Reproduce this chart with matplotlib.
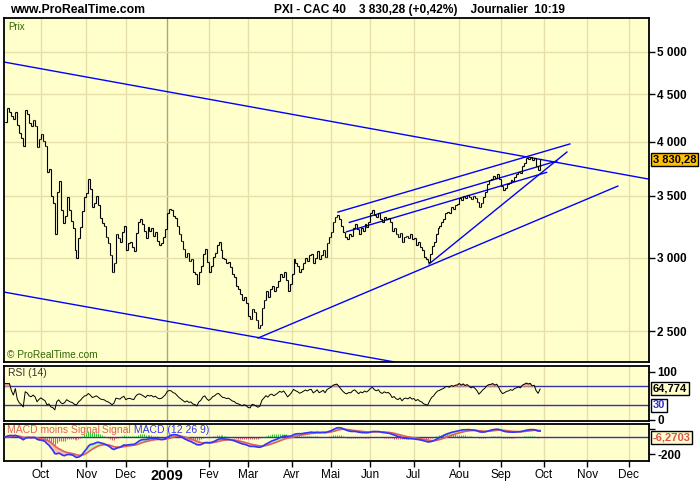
import numpy as np
import pandas as pd
import matplotlib
matplotlib.use('Agg')
import matplotlib.pyplot as plt

plt.rcParams['font.family'] = ['Liberation Sans Narrow', 'Liberation Sans', 'DejaVu Sans']

# CAC 40 daily closes, 5 Sep 2008 -> 29 Sep 2009 (trading-day index)
sep08 = [4205, 4350, 4305, 4265, 4230, 4310, 4170, 4090, 4040, 3960, 4325, 4290, 4195, 4165, 4220, 4160, 3950, 4030]
oct08 = [4080, 4010, 3960, 3710, 3740, 3500, 3440, 3180, 3530, 3630, 3380, 3270, 3330, 3490, 3380, 3290,
         3230, 3060, 3000, 3150, 3240, 3370, 3490]
nov08 = [3520, 3650, 3560, 3400, 3440, 3500, 3420, 3310, 3270, 3250, 3160, 3110, 3020, 2900, 2960, 3180,
         3150, 3120, 3200, 3250]
dec08 = [3060, 3110, 3120, 3080, 3050, 3190, 3280, 3300, 3260, 3210, 3150, 3240, 3210, 3230, 3170, 3200,
         3130, 3100, 3110, 3160, 3220]
jan09 = [3350, 3390, 3380, 3330, 3310, 3250, 3180, 3130, 3070, 3010, 3040, 2980, 2990, 2900, 2880, 2810,
         2900, 2940, 3030, 3070, 2970]
feb09 = [2900, 2940, 3010, 3040, 3100, 3120, 3060, 3000, 2990, 2960, 2970, 2930, 2880, 2860, 2800, 2780,
         2740, 2700, 2720, 2680]
mar09 = [2600, 2580, 2640, 2620, 2570, 2520, 2540, 2650, 2700, 2760, 2720, 2780, 2800, 2760, 2790, 2830,
         2880, 2860, 2900, 2840, 2760, 2810]
apr09 = [2880, 2990, 2960, 2940, 2900, 2920, 2960, 3000, 2980, 3020, 3030, 2960, 3000, 3050, 2990, 3020,
         3060, 3010, 3110, 3160]
may09 = [3200, 3280, 3320, 3340, 3300, 3250, 3200, 3160, 3140, 3180, 3170, 3230, 3260, 3220, 3180, 3230,
         3210, 3260, 3240, 3280]
jun09 = [3350, 3380, 3340, 3320, 3350, 3300, 3280, 3320, 3300, 3310, 3280, 3210, 3230, 3180, 3160, 3190,
         3120, 3160, 3170, 3150, 3180, 3140]
jul09 = [3150, 3100, 3120, 3080, 3060, 3010, 2990, 2970, 3030, 3090, 3120, 3180, 3230, 3250, 3280, 3300,
         3350, 3360, 3350, 3400, 3390, 3420, 3430]
aug09 = [3480, 3460, 3500, 3480, 3510, 3490, 3470, 3500, 3480, 3450, 3400, 3440, 3490, 3530, 3600, 3640,
         3650, 3680, 3660, 3690, 3650]
sep09 = [3590, 3550, 3570, 3600, 3610, 3640, 3630, 3670, 3690, 3710, 3700, 3770, 3800, 3840, 3830, 3850,
         3820, 3840, 3770, 3730, 3830.28]

closes = np.array(sep08 + oct08 + nov08 + dec08 + jan09 + feb09 + mar09 + apr09 + may09
                  + jun09 + jul09 + aug09 + sep09, dtype=float)
idx = np.arange(len(closes))

# first trading day of each month (index) and its label
month_starts = [18, 41, 61, 82, 103, 123, 145, 165, 185, 207, 230, 251, 273, 295, 316]
month_labels = ['Oct', 'Nov', 'Dec', '2009', 'Fev', 'Mar', 'Avr', 'Mai', 'Jun', 'Jul', 'Aou', 'Sep',
                'Oct', 'Nov', 'Dec']
price_ticks = [2500, 3000, 3500, 4000, 4500, 5000]

# hand-drawn trend lines, as (day index, price) end points
trend_lines = [
    [(-0.75, 4877), (330, 3635)],
    [(-0.75, 2756), (240, 2232)],
    [(128, 2459), (310.4, 3585)],
    [(214.7, 2955), (284.6, 3901)],
    [(168.5, 3361), (286.1, 3980)],
    [(174.3, 3276), (279.5, 3815)],
    [(172.9, 3201), (274.3, 3709)],
]

# indicators
s = pd.Series(closes)
delta = s.diff().fillna(0)
up = delta.clip(lower=0).ewm(alpha=1 / 14, adjust=True).mean()
down = (-delta.clip(upper=0)).ewm(alpha=1 / 14, adjust=True).mean()
rsi = (100 - 100 / (1 + up / down.replace(0, np.nan))).bfill().values
macd = (s.ewm(span=12, adjust=False).mean() - s.ewm(span=26, adjust=False).mean()).values
signal = pd.Series(macd).ewm(span=9, adjust=False).mean().values
hist = macd - signal

bg = '#FFFFCC'
grid_c = '#E6E0A8'
jan_c = '#A8A488'
xlim = (-0.75, 326.2)

fig = plt.figure(figsize=(7, 5), dpi=100)
ax = fig.add_axes([4 / 700, 1 - 362 / 500, 645 / 700, 344 / 500])
ax_rsi = fig.add_axes([4 / 700, 1 - 421 / 500, 645 / 700, 55 / 500])
ax_macd = fig.add_axes([4 / 700, 1 - 461 / 500, 645 / 700, 37 / 500])

for a in (ax, ax_rsi, ax_macd):
    a.set_facecolor(bg)
    a.set_xlim(*xlim)
    for m in month_starts:
        a.axvline(m, color=jan_c if m == 82 else grid_c, lw=1, zorder=0)
    for sp in a.spines.values():
        sp.set_linewidth(1.3)
    a.yaxis.tick_right()
    a.tick_params(axis='y', length=4, width=1, pad=2, labelsize=8.5)
    a.set_xticks([])

# price panel
ax.set_yscale('log')
ax.set_ylim(2317, 5440)
for p in price_ticks:
    ax.axhline(p, color=grid_c, lw=1, zorder=0)
ax.set_yticks(price_ticks)
ax.set_yticks([], minor=True)
ax.set_yticklabels([f'{p:,}'.replace(',', ' ') for p in price_ticks], fontweight='bold')

opens = np.r_[closes[0], closes[:-1]]
ax.vlines(idx, np.minimum(opens, closes), np.maximum(opens, closes), color='black', lw=0.8, zorder=3)
ax.hlines(opens, idx - 0.7, idx, color='black', lw=0.8, zorder=3)
ax.hlines(closes, idx, idx + 0.7, color='black', lw=0.8, zorder=3)

for (x0, y0), (x1, y1) in trend_lines:
    ax.plot([x0, x1], [y0, y1], color='#0000FF', lw=1, zorder=2)

ax.text(0.006, 0.988, 'Prix', transform=ax.transAxes, color='#336600', fontsize=7, va='top')
ax.text(0.004, 0.006, '\u00a9 ProRealTime.com', transform=ax.transAxes, color='#336600', fontsize=7.3, va='bottom')
ax.text(1.006, closes[-1], '3 830,28', transform=ax.get_yaxis_transform(), va='center', ha='left',
        fontsize=8, fontweight='bold', clip_on=False,
        bbox=dict(boxstyle='square,pad=0.15', fc='#FFC000', ec='black', lw=1))

# RSI panel
ax_rsi.set_ylim(-2.5, 111.4)
ax_rsi.axhline(70, color='#3333AA', lw=1, zorder=1)
ax_rsi.axhline(30, color='#3333AA', lw=1, zorder=1)
ax_rsi.fill_between(idx, rsi, 70, where=rsi > 70, color='#E8A890', interpolate=True, zorder=1)
ax_rsi.plot(idx, rsi, color='black', lw=0.7, zorder=2)
ax_rsi.set_yticks([0, 100])
ax_rsi.set_yticklabels(['0', '100'], fontweight='bold')
ax_rsi.text(0.006, 0.96, 'RSI (14)', transform=ax_rsi.transAxes, fontsize=7.5, va='top', color='#333333')
ax_rsi.text(1.006, 64.774, '64,774', transform=ax_rsi.get_yaxis_transform(), va='center', ha='left',
            fontsize=8, fontweight='bold', clip_on=False,
            bbox=dict(boxstyle='square,pad=0.15', fc=bg, ec='black', lw=1))
ax_rsi.text(1.006, 30, '30', transform=ax_rsi.get_yaxis_transform(), va='center', ha='left',
            fontsize=8, fontweight='bold', color='#3333CC', clip_on=False,
            bbox=dict(boxstyle='square,pad=0.15', fc='white', ec='black', lw=1))

# MACD panel
ax_macd.set_ylim(-282, 153)
ax_macd.fill_between(idx, macd, signal, where=macd >= signal, color='#C8F0A0', interpolate=True, zorder=1)
ax_macd.fill_between(idx, macd, signal, where=macd < signal, color='#F5C0A8', interpolate=True, zorder=1)
ax_macd.vlines(idx, 0, hist, colors=np.where(hist >= 0, '#33CC33', '#E06060'), lw=0.8, zorder=2)
ax_macd.axhline(0, color='#3333AA', lw=1, zorder=2)
ax_macd.plot(idx, signal, color='#E06060', lw=1.2, zorder=3)
ax_macd.plot(idx, macd, color='#3333FF', lw=1.2, zorder=4)
ax_macd.set_yticks([-200, 100])
ax_macd.set_yticklabels(['-200', ''], fontweight='bold')
ax_macd.text(1.006, -6.27, '-6,2703', transform=ax_macd.get_yaxis_transform(), va='center', ha='left',
             fontsize=8, fontweight='bold', color='#E05050', clip_on=False,
             bbox=dict(boxstyle='square,pad=0.15', fc=bg, ec='black', lw=1))

fig.canvas.draw()
r = fig.canvas.get_renderer()
xpos = 0.004
for txt, col in [('MACD moins Signal', '#E06060'), (' Signal', '#E06060'), (' MACD (12 26 9)', '#3333FF')]:
    t = ax_macd.text(xpos, 0.97, txt, transform=ax_macd.transAxes, fontsize=7.5, va='top', color=col)
    bb = t.get_window_extent(renderer=r)
    xpos += bb.width / ax_macd.get_window_extent().width

ax_macd.set_xticks(month_starts)
ax_macd.set_xticklabels(month_labels, fontsize=8.5)
ax_macd.tick_params(axis='x', length=4, width=1, pad=2)
for lab in ax_macd.get_xticklabels():
    if lab.get_text() == '2009':
        lab.set_fontweight('bold')
        lab.set_fontsize(10.5)

fig.text(10 / 700, 1 - 10 / 500, 'www.ProRealTime.com', fontsize=8.8, fontweight='bold', va='center')
fig.text(419 / 700, 1 - 10 / 500, 'PXI - CAC 40    3 830,28 (+0,42%)    Journalier  10:19',
         fontsize=8.6, fontweight='bold', va='center', ha='center')

fig.savefig('out.png', dpi=100, facecolor='white')
